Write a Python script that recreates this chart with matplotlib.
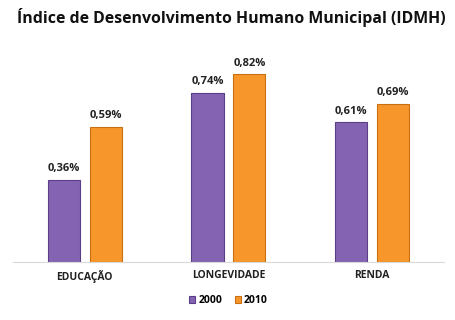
import matplotlib
matplotlib.use("Agg")
import matplotlib.pyplot as plt
import numpy as np

categories = ["EDUCAÇÃO", "LONGEVIDADE", "RENDA"]
series_names = ["2000", "2010"]
values_2000 = [0.36, 0.74, 0.61]
values_2010 = [0.59, 0.82, 0.69]

plt.rcParams["font.family"] = ["Open Sans", "DejaVu Sans"]

fig = plt.figure(figsize=(4.56, 3.2), dpi=100)
ax = fig.add_axes([0.0285, 0.181, 0.945, 0.644])

x = np.arange(len(categories))
w = 0.223
off = 0.146
colors = ["#8463b3", "#f7962b"]
edges = ["#5b3f86", "#c86f12"]

for vals, sign, c, ec, name in [(values_2000, -1, colors[0], edges[0], series_names[0]),
                                (values_2010, 1, colors[1], edges[1], series_names[1])]:
    bars = ax.bar(x + sign * off, vals, w, color=c, edgecolor=ec, linewidth=0.8, label=name)
    for b, v in zip(bars, vals):
        ax.text(b.get_x() + b.get_width() / 2, v + 0.025, f"{v:.2f}".replace(".", ",") + "%",
                ha="center", va="bottom", fontsize=8, fontweight="bold", color="#222222")

ax.set_xlim(-0.5, 2.5)
ax.set_ylim(0, 0.9)
ax.set_yticks([])
ax.set_xticks(x)
ax.set_xticklabels(categories, fontsize=7.5, fontweight="bold", color="#222222")
ax.tick_params(axis="x", length=0, pad=6)
for s in ["top", "right", "left"]:
    ax.spines[s].set_visible(False)
ax.spines["bottom"].set_color("#d9d9d9")

fig.suptitle("Índice de Desenvolvimento Humano Municipal (IDMH)", fontsize=11.4,
             fontweight="bold", x=0.507, y=0.975, color="#111111")

leg = ax.legend(loc="upper center", bbox_to_anchor=(0.5, -0.115), ncol=2, frameon=False,
                fontsize=7.5, handlelength=0.6, handleheight=0.6, columnspacing=1.2,
                handletextpad=0.3)
for t in leg.get_texts():
    t.set_fontweight("bold")

fig.savefig("out.png", dpi=100)
